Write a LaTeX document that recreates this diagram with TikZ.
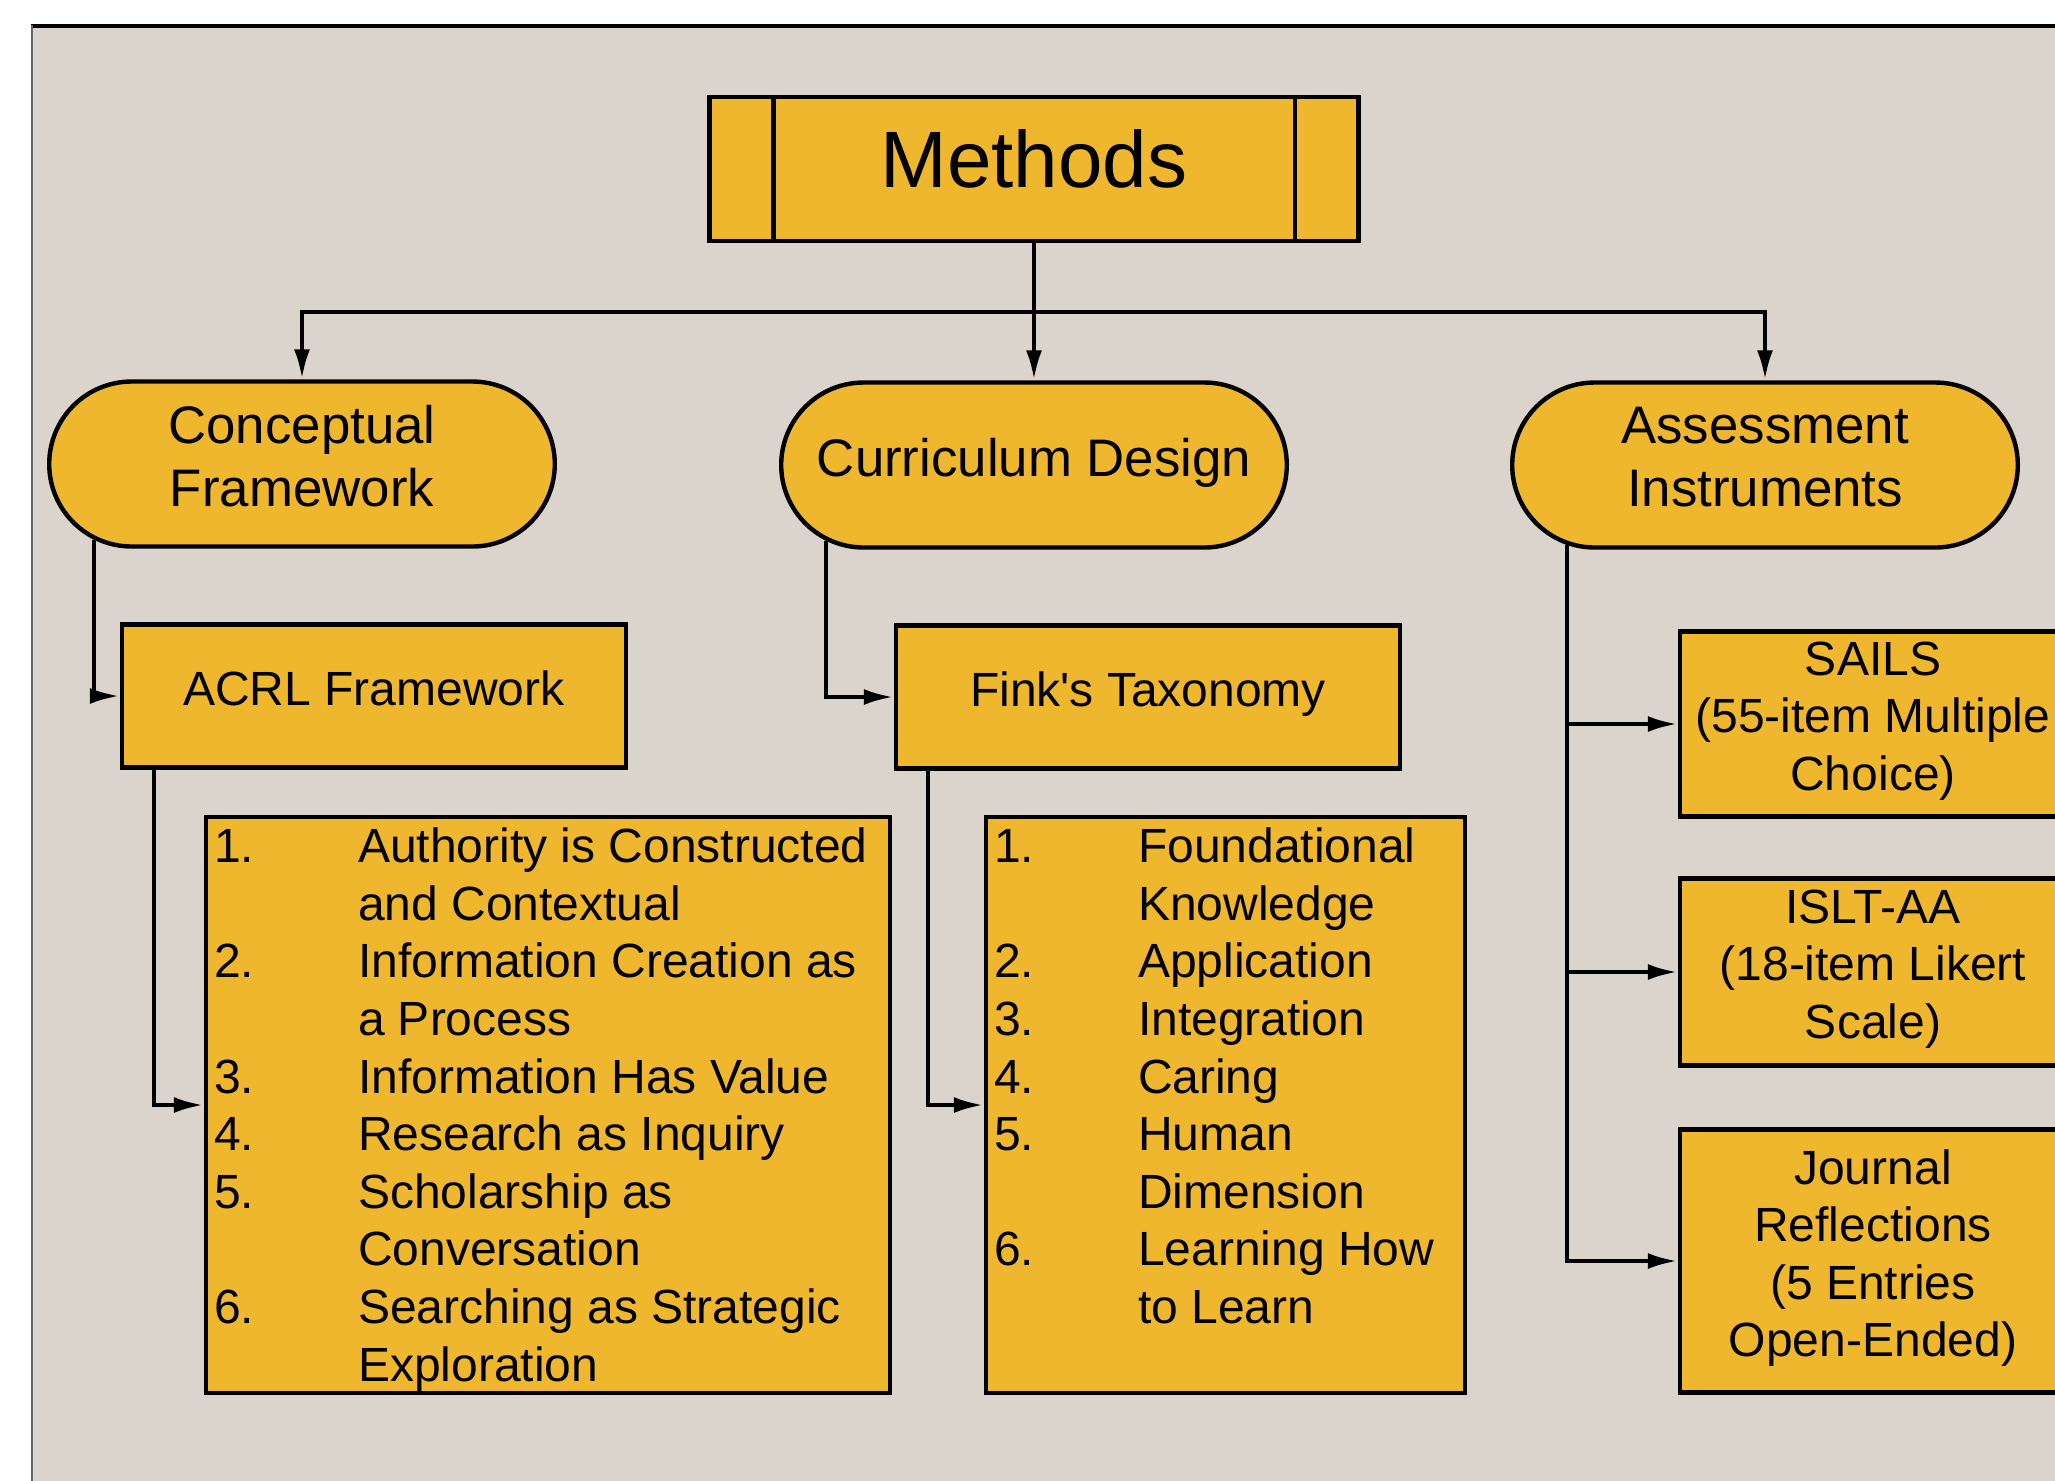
\documentclass[tikz,border=0pt]{standalone}
\usepackage{fontspec}
\setmainfont{Liberation Sans}
\usepackage{tikz}
\usetikzlibrary{shapes.misc,arrows.meta}
\definecolor{paper}{RGB}{219,212,204}
\definecolor{gold}{RGB}{239,183,46}
% extra depth under the last line of a node
\newcommand\lowstrut{\rule[-4pt]{0pt}{4pt}}

\begin{document}
\begin{tikzpicture}[x=0.25pt,y=-0.25pt,
  box/.style={draw,line width=1.1pt,fill=gold,inner sep=2pt,
    font=\fontsize{12}{14.4}\selectfont},
  cbox/.style={box,align=center},
  pill/.style={cbox,rounded rectangle,minimum width=130.4pt,minimum height=41.25pt,
    font=\fontsize{13.2}{15.8}\selectfont},
  listbox/.style={box,minimum height=144pt,inner ysep=0pt,text height=11.4pt,text depth=132.6pt},
  arr/.style={line width=1.1pt,-{Latex[length=7.5pt,width=4pt]}}]
\useasboundingbox (0,0) rectangle (2055,1480);
\fill[white] (0,0) rectangle (2055,1480);
\clip (0,0) rectangle (2055,1480);
% page frame
\fill[paper] (31,25) rectangle (2100,1520);
\draw[line width=1pt] (31,26) -- (2100,26);
\draw[black!60,line width=0.5pt] (32,25) -- (32,1520);

\node [cbox,minimum width=162.25pt,minimum height=36pt,text depth=5pt,
  font=\fontsize{20}{24}\selectfont] (methods) at (1034,169) {Methods};
\draw[line width=1.1pt] ([xshift=16.5pt]methods.north west) -- ([xshift=16.5pt]methods.south west)
  ([xshift=-16.5pt]methods.north east) -- ([xshift=-16.5pt]methods.south east);

\node [pill] (concept) at (302,464) {Conceptual\\Framework\lowstrut};
\node [pill] (curric) at (1034,465) {Curriculum Design\lowstrut};
\node [pill] (assess) at (1765,465) {Assessment\\Instruments\lowstrut};

\node [cbox,minimum width=126pt,minimum height=35.75pt] (acrl) at (374,696) {ACRL Framework\lowstrut};
\node [cbox,minimum width=126pt,minimum height=35.75pt] (fink) at (1148,697) {Fink\textquotesingle s Taxonomy\lowstrut};

\node [listbox,minimum width=171pt] (acrllist) at (548,1105) {%
  \begin{tabular}[t]{@{}p{36pt}@{}p{131pt}@{}}
  1. & Authority is Constructed\\
     & and Contextual\\
  2. & Information Creation as\\
     & a Process\\
  3. & Information Has Value\\
  4. & Research as Inquiry\\
  5. & Scholarship as\\
     & Conversation\\
  6. & Searching as Strategic\\
     & Exploration
  \end{tabular}};
\node [listbox,minimum width=119.75pt] (finklist) at (1225.5,1105) {%
  \begin{tabular}[t]{@{}p{36pt}@{}p{79.75pt}@{}}
  1. & Foundational\\
     & Knowledge\\
  2. & Application\\
  3. & Integration\\
  4. & Caring\\
  5. & Human\\
     & Dimension\\
  6. & Learning How\\
     & to Learn\\
     &
  \end{tabular}};

\node [cbox,minimum width=96.5pt,minimum height=46.25pt] (sails) at (1873,724) {SAILS\\(55-item Multiple\\Choice)\lowstrut};
\node [cbox,minimum width=96.5pt,minimum height=46.75pt] (islt) at (1873,972) {ISLT-AA\\(18-item Likert\\Scale)\lowstrut};
\node [cbox,minimum width=96.5pt,minimum height=65.75pt] (journal) at (1873,1261) {Journal\\Reflections\\(5 Entries\\Open-Ended)\lowstrut};

% connectors
\coordinate (bus) at (1034,312);
\draw[arr] (methods.south) -- (curric.north);
\draw[arr] (bus) -| (concept.north);
\draw[arr] (bus) -| (assess.north);
\draw[arr] (concept.200) |- (acrl.west);
\draw[arr] (curric.200) |- (fink.west);
\draw[arr] ([xshift=8.5pt]acrl.south west) |- (acrllist.west);
\draw[arr] ([xshift=8.5pt]fink.south west) |- (finklist.west);
\draw[arr] (assess.202) |- (journal.west);
\draw[arr] (assess.202 |- sails.west) -- (sails.west);
\draw[arr] (assess.202 |- islt.west) -- (islt.west);
% \draw[arr] (journal.south) -- ++(0,60);
\end{tikzpicture}
\end{document}
